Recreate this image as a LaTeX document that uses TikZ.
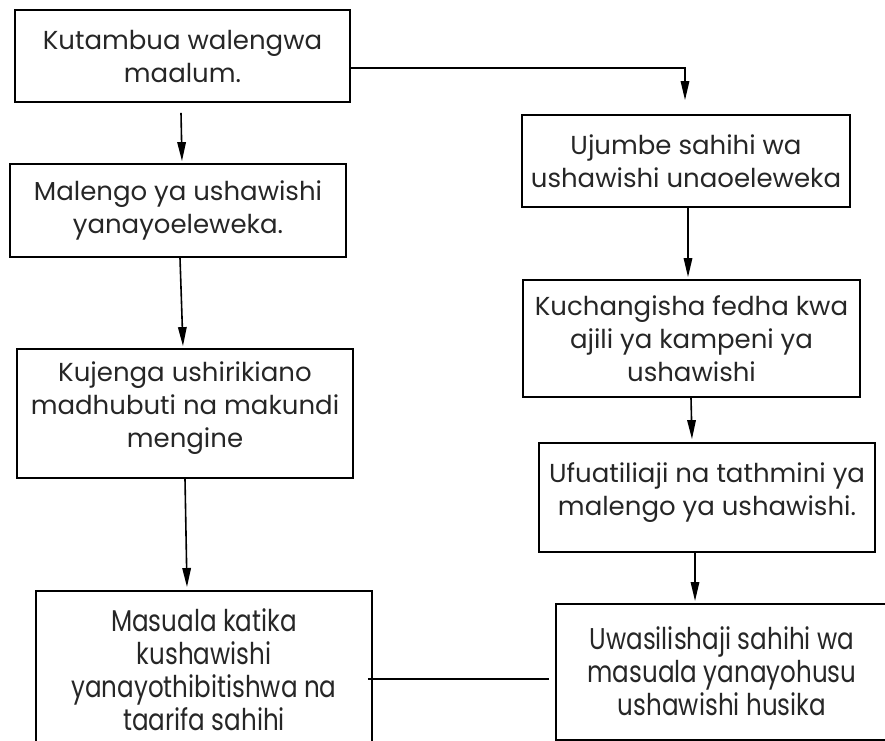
\documentclass[tikz,border=0pt]{standalone}
\usepackage{fontspec}
\setmainfont{Poppins}
\newfontfamily\narrowfont[FakeStretch=0.82]{Poppins}
\usetikzlibrary{arrows.meta}
\tikzset{
  boxtext/.style={inner sep=0pt, align=center,
    font=\fontsize{26}{33}\selectfont, text=black!85},
  stepbox/.style={boxtext, draw=black, line width=1.8pt},
  narrowtext/.style={font=\narrowfont\fontsize{30}{33}\selectfont},
  bigbox/.style={stepbox, narrowtext},
  arr/.style={line width=1.6pt, -{Triangle[length=19pt,width=8.5pt]}, shorten >=1pt},
  plain/.style={line width=1.6pt}
}
\begin{document}
\begin{tikzpicture}[x=1pt,y=-1pt]
\useasboundingbox (0,0) rectangle (885,740);
\begin{scope}
\clip (0,0) rectangle (885,740);
% left column
\node[stepbox, minimum width=335pt, minimum height=92pt] (b1) at (182.5,56) {Kutambua walengwa\\maalum.};
\node[stepbox, minimum width=336pt, minimum height=93pt] (b2) at (178,210.5) {Malengo ya ushawishi\\yanayoeleweka.};
\node[stepbox, minimum width=336pt, minimum height=129pt] (b3) at (185,413.5) {};
\node[boxtext] (b3t) at (185,408) {Kujenga ushirikiano\\madhubuti na makundi\\mengine};
\node[bigbox, minimum width=336pt, minimum height=158pt, anchor=north] (b4) at (204,590) {Masuala katika\\kushawishi\\yanayothibitishwa na\\taarifa sahihi};
% right column
\node[stepbox, minimum width=328pt, minimum height=92pt] (r1) at (686,161) {Ujumbe sahihi wa\\ushawishi unaoeleweka};
\node[stepbox, minimum width=337pt, minimum height=117pt] (r2) at (691.5,338.5) {Kuchangisha fedha kwa\\ajili ya kampeni ya\\ushawishi};
\node[stepbox, minimum width=336pt, minimum height=109pt] (r3) at (707,497.5) {};
\node[boxtext] (r3t) at (707,493) {Ufuatiliaji na tathmini ya\\malengo ya ushawishi.};
\node[bigbox, minimum width=340pt, minimum height=136pt, anchor=north] (r4) at (726,603) {};
\node[boxtext, narrowtext] (r4t) at (722,671) {Uwasilishaji sahihi wa\\masuala yanayohusu\\ushawishi husika};
% connectors
\draw[arr] ([xshift=-1.5pt,yshift=-10pt]b1.south) -- ([xshift=4pt,yshift=1pt]b2.north);
\draw[arr] ([xshift=2pt]b2.south) -- ([xshift=-2pt,yshift=1pt]b3.north);
\draw[arr] (b3.south) -- ([xshift=-17pt,yshift=2pt]b4.north);
\draw[arr] ([yshift=-12pt]b1.east) -| ([xshift=-1pt,yshift=13pt]r1.north);
\draw[arr] ([xshift=2pt]r1.south) -- ([xshift=-3.5pt,yshift=1pt]r2.north);
\draw[arr] ([xshift=-0.5pt]r2.south) -- ([xshift=-15pt,yshift=2pt]r3.north);
\draw[arr] ([xshift=-12pt]r3.south) -- ([xshift=-31pt,yshift=1pt]r4.north);
\coordinate (hl) at ([xshift=-5pt,yshift=-9pt]b4.east);
\draw[plain] (hl) -- ([xshift=-6pt]r4.west |- hl);
\end{scope}
\end{tikzpicture}
\end{document}
